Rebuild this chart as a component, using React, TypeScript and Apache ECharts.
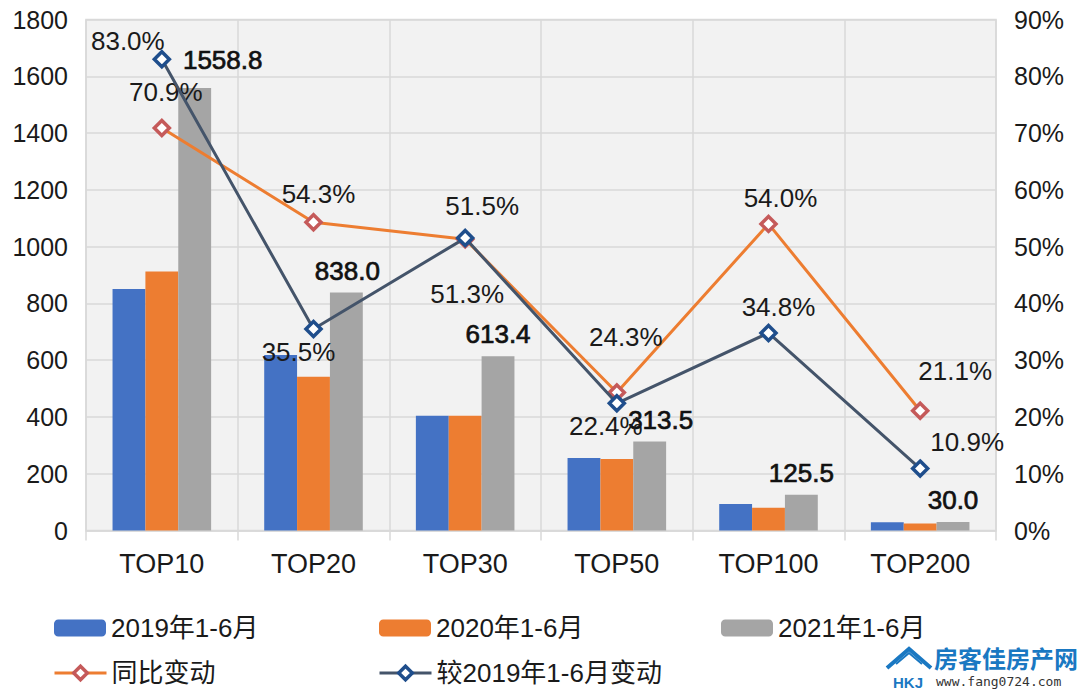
import React, { useEffect, useRef } from "react";
import * as echarts from "echarts";

const categories = ["TOP10", "TOP20", "TOP30", "TOP50", "TOP100", "TOP200"];
const sales2019 = [851, 618, 404, 255, 93, 29];
const sales2020 = [912, 542, 404, 252, 80, 25];
const sales2021 = [1558.8, 838.0, 613.4, 313.5, 125.5, 30.0];
const yoyChange = [70.9, 54.3, 51.3, 24.3, 54.0, 21.1];
const vs2019Change = [83.0, 35.5, 51.5, 22.4, 34.8, 10.9];
const seriesNames = ["2019年1-6月", "2020年1-6月", "2021年1-6月", "同比变动", "较2019年1-6月变动"];

// label offsets (presentation only)
const barLabelOffsets = [[28, -6], [1, 0], [0, 0], [11, 0], [0, 0], [0, 0]];
const yoyLabelOffsets = [[4, -36], [5, -28], [2, 55], [9, -56], [12, -26], [35, -40]];
const vsLabelOffsets = [[-34, -18], [-15, 23], [17, -32], [-11, 23], [10, -26], [47, -27]];

const FONT = "'Liberation Sans', Arial, 'Noto Sans CJK SC', sans-serif";

export default function App() {
  const ref = useRef<HTMLDivElement>(null);
  useEffect(() => {
    if (!ref.current) return;
    const chart = echarts.init(ref.current, undefined, { renderer: "svg" });
    const lineLabel = (offs: number[][]) => (v: number, i: number) => ({
      value: v,
      label: { offset: offs[i] },
    });
    const legendCommon = {
      itemWidth: 52,
      itemHeight: 17,
      textStyle: { fontSize: 26, color: "#1a1a1a", fontFamily: FONT },
      selectedMode: false,
    };
    const lineLegend = {
      ...legendCommon,
      lineStyle: { width: 3 },
      itemStyle: { borderWidth: 3.5 },
    };
    chart.setOption({
      animation: false,
      backgroundColor: "#ffffff",
      textStyle: { fontFamily: FONT },
      grid: {
        left: 86,
        right: 84,
        top: 19.5,
        bottom: 164.5,
        show: true,
        backgroundColor: "#f2f2f2",
        borderColor: "#d9d9d9",
        borderWidth: 1.5,
      },
      legend: [
        { ...legendCommon, data: [seriesNames[0]], left: 49, top: 610 },
        { ...legendCommon, data: [seriesNames[1]], left: 374, top: 610 },
        { ...legendCommon, data: [seriesNames[2]], left: 716, top: 610 },
        { ...lineLegend, data: [seriesNames[3]], left: 48, top: 655 },
        { ...lineLegend, data: [seriesNames[4]], left: 373, top: 655 },
      ],
      xAxis: {
        type: "category",
        data: categories,
        axisLine: { lineStyle: { color: "#d9d9d9", width: 1.5 } },
        axisTick: { show: true, length: 10, lineStyle: { color: "#d9d9d9", width: 1.5 } },
        axisLabel: { fontSize: 27, color: "#1a1a1a", margin: 20, fontFamily: FONT },
        splitLine: { show: true, lineStyle: { color: "#d9d9d9", width: 1.5 } },
      },
      yAxis: [
        {
          type: "value",
          min: 0,
          max: 1800,
          interval: 200,
          axisLine: { show: false },
          axisTick: { show: false },
          axisLabel: {
            fontSize: 25,
            color: "#1a1a1a",
            margin: 18,
            fontFamily: FONT,
            formatter: (v: number) => String(v),
          },
          splitLine: { show: true, lineStyle: { color: "#d9d9d9", width: 1.5 } },
        },
        {
          type: "value",
          min: 0,
          max: 90,
          interval: 10,
          axisLine: { show: false },
          axisTick: { show: false },
          axisLabel: { fontSize: 25, color: "#1a1a1a", margin: 18, formatter: "{value}%", fontFamily: FONT },
          splitLine: { show: false },
        },
      ],
      series: [
        {
          name: seriesNames[0],
          type: "bar",
          data: sales2019,
          barGap: "0%",
          barCategoryGap: "35%",
          itemStyle: { color: "#4472C4" },
        },
        {
          name: seriesNames[1],
          type: "bar",
          data: sales2020,
          barGap: "0%",
          barCategoryGap: "35%",
          itemStyle: { color: "#ED7D31" },
        },
        {
          name: seriesNames[2],
          type: "bar",
          data: sales2021.map((v, i) => ({ value: v, label: { offset: barLabelOffsets[i] } })),
          barGap: "0%",
          barCategoryGap: "35%",
          itemStyle: { color: "#A5A5A5" },
          label: {
            show: true,
            position: "top",
            distance: 9,
            fontSize: 26,
            fontWeight: "normal",
            color: "#111111",
            textBorderColor: "#111111",
            textBorderWidth: 0.7,
            fontFamily: FONT,
            formatter: (p: any) => Number(p.value).toFixed(1),
          },
        },
        {
          name: seriesNames[3],
          type: "line",
          yAxisIndex: 1,
          data: yoyChange.map(lineLabel(yoyLabelOffsets)),
          symbol: "diamond",
          symbolSize: 15,
          lineStyle: { color: "#ED7D31", width: 3 },
          itemStyle: { color: "#ffffff", borderColor: "#C55A5A", borderWidth: 3.5 },
          z: 5,
          label: {
            show: true,
            position: "inside",
            fontSize: 26,
            color: "#1a1a1a",
            fontFamily: FONT,
            formatter: (p: any) => Number(p.value).toFixed(1) + "%",
          },
        },
        {
          name: seriesNames[4],
          type: "line",
          yAxisIndex: 1,
          data: vs2019Change.map(lineLabel(vsLabelOffsets)),
          symbol: "diamond",
          symbolSize: 15,
          lineStyle: { color: "#44546A", width: 3 },
          itemStyle: { color: "#ffffff", borderColor: "#1F4E8C", borderWidth: 3.5 },
          z: 6,
          label: {
            show: true,
            position: "inside",
            fontSize: 26,
            color: "#1a1a1a",
            fontFamily: FONT,
            formatter: (p: any) => Number(p.value).toFixed(1) + "%",
          },
        },
      ],
      graphic: [
        {
          type: "polyline",
          shape: { points: [[887, 668], [909, 649], [931, 668]] },
          style: { stroke: "#1a78c2", lineWidth: 4, fill: "none" },
        },
        {
          type: "polyline",
          shape: { points: [[896, 664], [909, 653], [922, 664]] },
          style: { stroke: "#1a78c2", lineWidth: 2, fill: "none" },
        },
        {
          type: "text",
          left: 893,
          top: 675,
          style: { text: "HKJ", fontSize: 15, fontWeight: "bold", fill: "#1a78c2", fontFamily: FONT },
        },
        {
          type: "text",
          left: 934,
          top: 645,
          style: { text: "房客佳房产网", fontSize: 24, fontWeight: "bold", fill: "#1a78c2", fontFamily: "'Noto Sans CJK SC', sans-serif" },
        },
        {
          type: "text",
          left: 936,
          top: 675,
          style: { text: "www.fang0724.com", fontSize: 13, fill: "#333333", fontFamily: "'DejaVu Sans Mono', monospace" },
        },
      ],
    });
    return () => chart.dispose();
  }, []);
  return (
    <div
      ref={ref}
      style={{ position: "absolute", left: 0, top: 0, width: 1080, height: 695 }}
    />
  );
}
